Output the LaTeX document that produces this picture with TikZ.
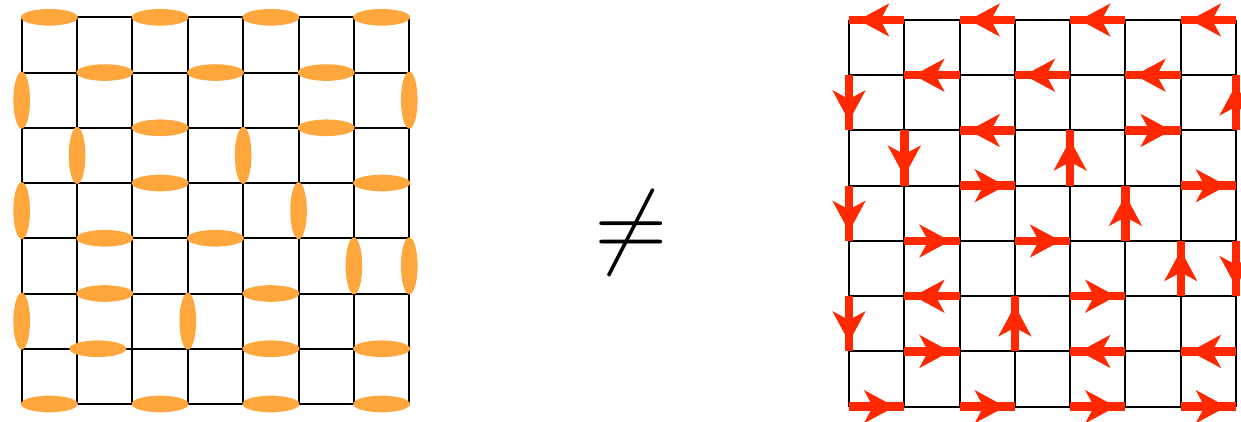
\documentclass[tikz,border=0pt]{standalone}
\usetikzlibrary{decorations.markings,calc}
\definecolor{dimerorange}{RGB}{255,166,60}
\definecolor{arrowred}{RGB}{255,40,0}
\newcommand\hdim[2]{\pgfmathtruncatemacro\nx{#1+1}\fill[dimer] ($(L-#1-#2)!0.5!(L-\nx-#2)$) ellipse [x radius=28.5pt, y radius=8.3pt];}
\newcommand\vdim[2]{\pgfmathtruncatemacro\ny{#2+1}\fill[dimer] ($(L-#1-#2)!0.5!(L-#1-\ny)$) ellipse [x radius=8.3pt, y radius=28.5pt];}
\newcommand\spinarr[4]{\draw[spin] (R-#1-#2) -- (R-#3-#4);}
\begin{document}
\begin{tikzpicture}[x=1pt,y=-1pt,
  gridline/.style={line width=2pt, black},
  dimer/.style={fill=dimerorange, draw=none},
  spin/.style={draw=arrowred, line width=8.5pt,
    decoration={markings, mark=at position 0.83 with {\fill[arrowred] (0pt,0pt) -- (-31pt,16.7pt) -- (-22pt,0pt) -- (-31pt,-16.7pt) -- cycle;}},
    postaction={decorate}}]
\useasboundingbox (0,0) rectangle (1241,421);
\foreach \i in {0,...,7}{\foreach \j in {0,...,7}{
  \coordinate (L-\i-\j) at ({21.7+55.37*\i},{17.3+55.24*\j});
  \coordinate (R-\i-\j) at ({849+55.29*\i},{20+55.24*\j});
}}
% grids
\foreach \k in {0,...,7}{
  \draw[gridline] (L-\k-0) -- (L-\k-7);
  \draw[gridline] (L-0-\k) -- (L-7-\k);
  \draw[gridline] (R-\k-0) -- (R-\k-7);
  \draw[gridline] (R-0-\k) -- (R-7-\k);
}
% dimers
\hdim{0}{0}\hdim{2}{0}\hdim{4}{0}\hdim{6}{0}
\hdim{1}{1}\hdim{3}{1}\hdim{5}{1}\vdim{0}{1}\vdim{7}{1}
\hdim{2}{2}\hdim{5}{2}\vdim{1}{2}\vdim{4}{2}
\hdim{2}{3}\hdim{6}{3}\vdim{0}{3}\vdim{5}{3}
\hdim{1}{4}\hdim{3}{4}\vdim{6}{4}\vdim{7}{4}
\hdim{1}{5}\hdim{4}{5}\vdim{0}{5}\vdim{3}{5}
\fill[dimer] ($(L-1-6)!0.5!(L-2-6)+(-7,0)$) ellipse [x radius=28.5pt, y radius=8.3pt];
\hdim{4}{6}\hdim{6}{6}
\hdim{0}{7}\hdim{2}{7}\hdim{4}{7}\hdim{6}{7}
% not equal
\node (neq) at (631.7,232.5) [scale=9.45, inner sep=0pt] {$\neq$};
% arrows
\spinarr{1}{0}{0}{0}\spinarr{3}{0}{2}{0}\spinarr{5}{0}{4}{0}\spinarr{7}{0}{6}{0}
\spinarr{2}{1}{1}{1}\spinarr{4}{1}{3}{1}\spinarr{6}{1}{5}{1}\spinarr{0}{1}{0}{2}\spinarr{7}{2}{7}{1}
\spinarr{3}{2}{2}{2}\spinarr{5}{2}{6}{2}\spinarr{1}{2}{1}{3}\spinarr{4}{3}{4}{2}
\spinarr{2}{3}{3}{3}\spinarr{6}{3}{7}{3}\spinarr{0}{3}{0}{4}\spinarr{5}{4}{5}{3}
\spinarr{1}{4}{2}{4}\spinarr{3}{4}{4}{4}\spinarr{6}{5}{6}{4}\spinarr{7}{4}{7}{5}
\spinarr{2}{5}{1}{5}\spinarr{4}{5}{5}{5}\spinarr{0}{5}{0}{6}\spinarr{3}{6}{3}{5}
\spinarr{1}{6}{2}{6}\spinarr{5}{6}{4}{6}\spinarr{7}{6}{6}{6}
\spinarr{0}{7}{1}{7}\spinarr{2}{7}{3}{7}\spinarr{4}{7}{5}{7}\spinarr{6}{7}{7}{7}
\end{tikzpicture}
\end{document}
